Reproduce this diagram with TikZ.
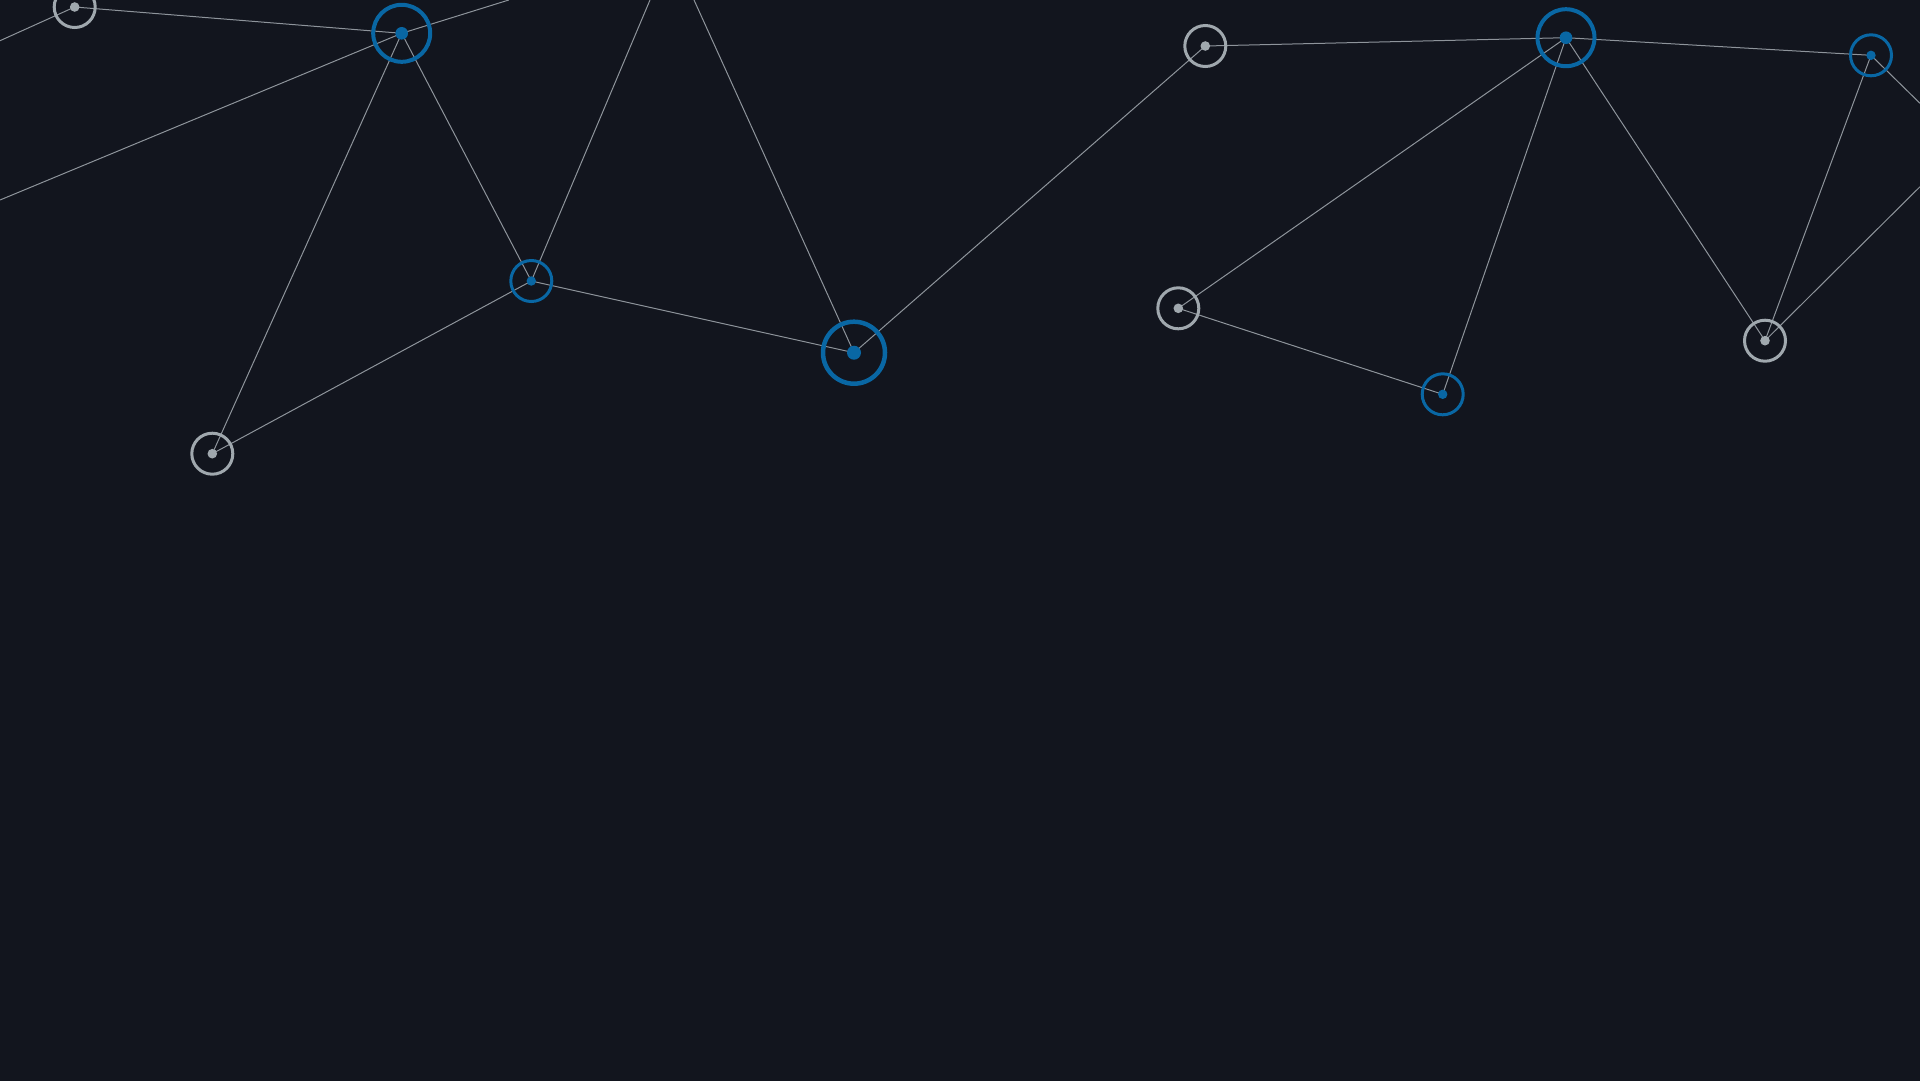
\documentclass[tikz,border=0pt]{standalone}
\begin{document}
\begin{tikzpicture}[x=1pt,y=-1pt,
  link/.style={draw=linkc, line width=1pt},
  greyring/.style={circle, draw=greyc, line width=3pt, minimum size=41pt, inner sep=0pt, outer sep=0pt},
  blueringS/.style={circle, draw=bluec, line width=3pt, minimum size=41pt, inner sep=0pt, outer sep=0pt},
  blueringB/.style={circle, draw=bluec, line width=4pt, minimum size=57pt, inner sep=0pt, outer sep=0pt},
  blueringXL/.style={circle, draw=bluec, line width=4.5pt, minimum size=62pt, inner sep=0pt, outer sep=0pt}]
\definecolor{bgc}{HTML}{12151E}
\definecolor{linkc}{HTML}{8E949B}
\definecolor{greyc}{HTML}{A0A8AE}
\definecolor{bluec}{HTML}{0967A4}
\useasboundingbox (0,0) rectangle (1920,1080);
\fill[bgc] (-5,-5) rectangle (1925,1085);
% centres
\coordinate (a) at (74.7,7);
\coordinate (b) at (401.7,33.3);
\coordinate (c) at (531.3,281);
\coordinate (d) at (212.3,453.7);
\coordinate (e) at (854,352.7);
\coordinate (f) at (1205.3,46);
\coordinate (g) at (1178.3,308.3);
\coordinate (h) at (1566,37.7);
\coordinate (i) at (1442.7,394.3);
\coordinate (j) at (1871,55.3);
\coordinate (k) at (1765,340.7);
% free ends
\coordinate (l1) at (0,40.7);
\coordinate (l2) at (0,200);
\coordinate (t1) at (508.8,0);
\coordinate (t2) at (650,0);
\coordinate (t3) at (694,0);
\coordinate (r1) at (1920,103.3);
\coordinate (r2) at (1920,186.7);
% links
\draw[link] (l1) -- (a);
\draw[link] (a) -- (b);
\draw[link] (b) -- (t1);
\draw[link] (b) -- (l2);
\draw[link] (b) -- (d);
\draw[link] (b) -- (c);
\draw[link] (c) -- (t2);
\draw[link] (c) -- (e);
\draw[link] (c) -- (d);
\draw[link] (e) -- (t3);
\draw[link] (e) -- (f);
\draw[link] (f) -- (h);
\draw[link] (h) -- (g);
\draw[link] (h) -- (i);
\draw[link] (h) -- (j);
\draw[link] (h) -- (k);
\draw[link] (g) -- (i);
\draw[link] (j) -- (k);
\draw[link] (j) -- (r1);
\draw[link] (k) -- (r2);
% rings
\node[greyring] (na) at (a) {};
\node[blueringB] (nb) at (b) {};
\node[blueringS] (nc) at (c) {};
\node[greyring] (nd) at (d) {};
\node[blueringXL] (ne) at (e) {};
\node[greyring] (nf) at (f) {};
\node[greyring] (ng) at (g) {};
\node[blueringB] (nh) at (h) {};
\node[blueringS] (ni) at (i) {};
\node[blueringS] (nj) at (j) {};
\node[greyring] (nk) at (k) {};
% dots
\fill[greyc] (na.center) circle (4.8);
\fill[bluec] (nb.center) circle (6.3);
\fill[bluec] (nc.center) circle (4.7);
\fill[greyc] (nd.center) circle (4.8);
\fill[bluec] (ne.center) circle (7);
\fill[greyc] (nf.center) circle (4.8);
\fill[greyc] (ng.center) circle (4.8);
\fill[bluec] (nh.center) circle (6.3);
\fill[bluec] (ni.center) circle (4.7);
\fill[bluec] (nj.center) circle (4.7);
\fill[greyc] (nk.center) circle (4.8);
\end{tikzpicture}
\end{document}
